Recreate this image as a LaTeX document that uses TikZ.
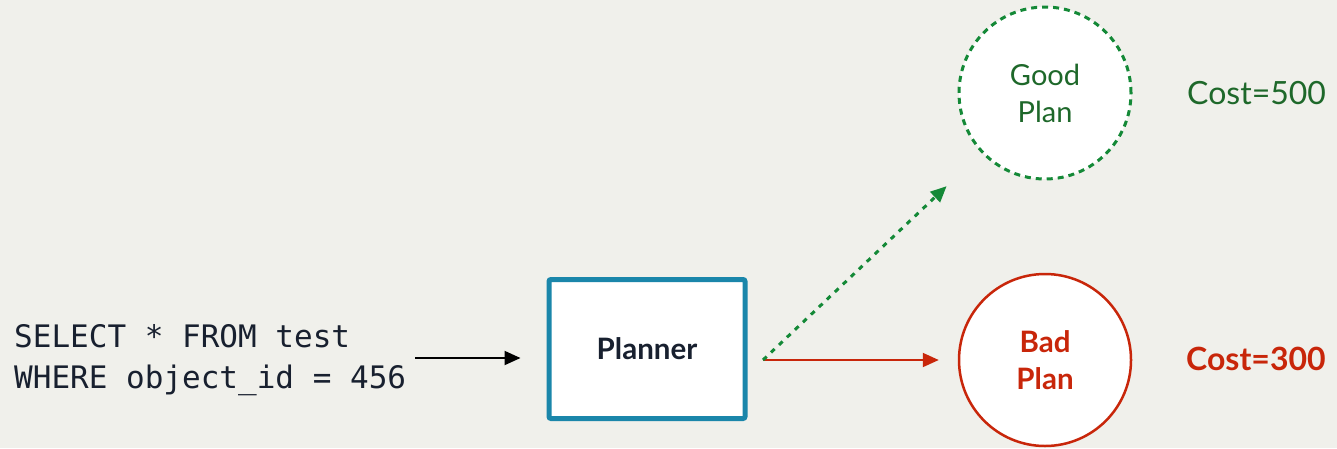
\documentclass[tikz,border=0pt]{standalone}
\usepackage{fontspec}
\setmainfont{Lato}
\setmonofont{DejaVu Sans Mono}
\usetikzlibrary{arrows.meta}
\definecolor{bgcol}{RGB}{240,240,235}
\definecolor{plannerblue}{RGB}{26,134,170}
\definecolor{inkdark}{RGB}{24,32,47}
\definecolor{goodline}{RGB}{20,137,55}
\definecolor{goodtext}{RGB}{30,104,42}
\definecolor{badred}{RGB}{200,38,10}
\tikzset{
  tip/.style={-{Triangle[length=16pt,width=14pt]}},
  plannerbox/.style={draw=plannerblue, line width=5pt, fill=white, rounded corners=2pt,
    minimum width=196pt, minimum height=139pt, inner sep=0pt,
    font=\fontsize{29.5}{34}\selectfont\bfseries, text=inkdark},
  plancircle/.style={circle, fill=white, minimum size=172pt, inner sep=0pt, align=center},
  goodcircle/.style={plancircle, draw=goodline, line width=3pt, dash pattern=on 6pt off 5pt,
    text=goodtext, font=\fontsize{29}{37}\selectfont},
  badcircle/.style={plancircle, draw=badred, line width=2.5pt,
    text=badred, font=\fontsize{29.5}{37}\selectfont\bfseries},
  costlabel/.style={anchor=west, inner sep=0pt, font=\fontsize{32}{37}\selectfont},
}
\begin{document}
\begin{tikzpicture}[x=1pt, y=-1pt]
  \useasboundingbox[fill=bgcol] (0,0) rectangle (1337,448);

  % query text
  \node[anchor=west, inner sep=0pt, align=left, text=inkdark,
        font=\fontsize{31}{41}\ttfamily] (sql) at (14,360)
    {SELECT * FROM test\\WHERE object\_id = 456};

  % planner and the two candidate plans
  \node[plannerbox] (planner) at (647,349) {Planner};
  \node[goodcircle] (good) at (1045,93) {Good\\Plan};
  \node[badcircle] (bad) at (1045,360) {Bad\\Plan};

  \node[costlabel, text=goodtext] (cgood) at (1187,93) {Cost=500};
  \node[costlabel, text=badred, font=\fontsize{32}{37}\selectfont\bfseries] (cbad) at (1186,359) {Cost=300};

  % connectors
  \coordinate (qin) at (415,358);
  \coordinate (fork) at (763,360);
  \draw[tip, line width=2pt, black, shorten >=26pt] (qin) -- (qin -| planner.west);
  \draw[tip, line width=2pt, badred, shorten >=19pt] (fork) -- (bad);
  \draw[tip, line width=3pt, goodline, dash pattern=on 5pt off 6pt, shorten >=48pt] (fork) -- (good);
\end{tikzpicture}
\end{document}
